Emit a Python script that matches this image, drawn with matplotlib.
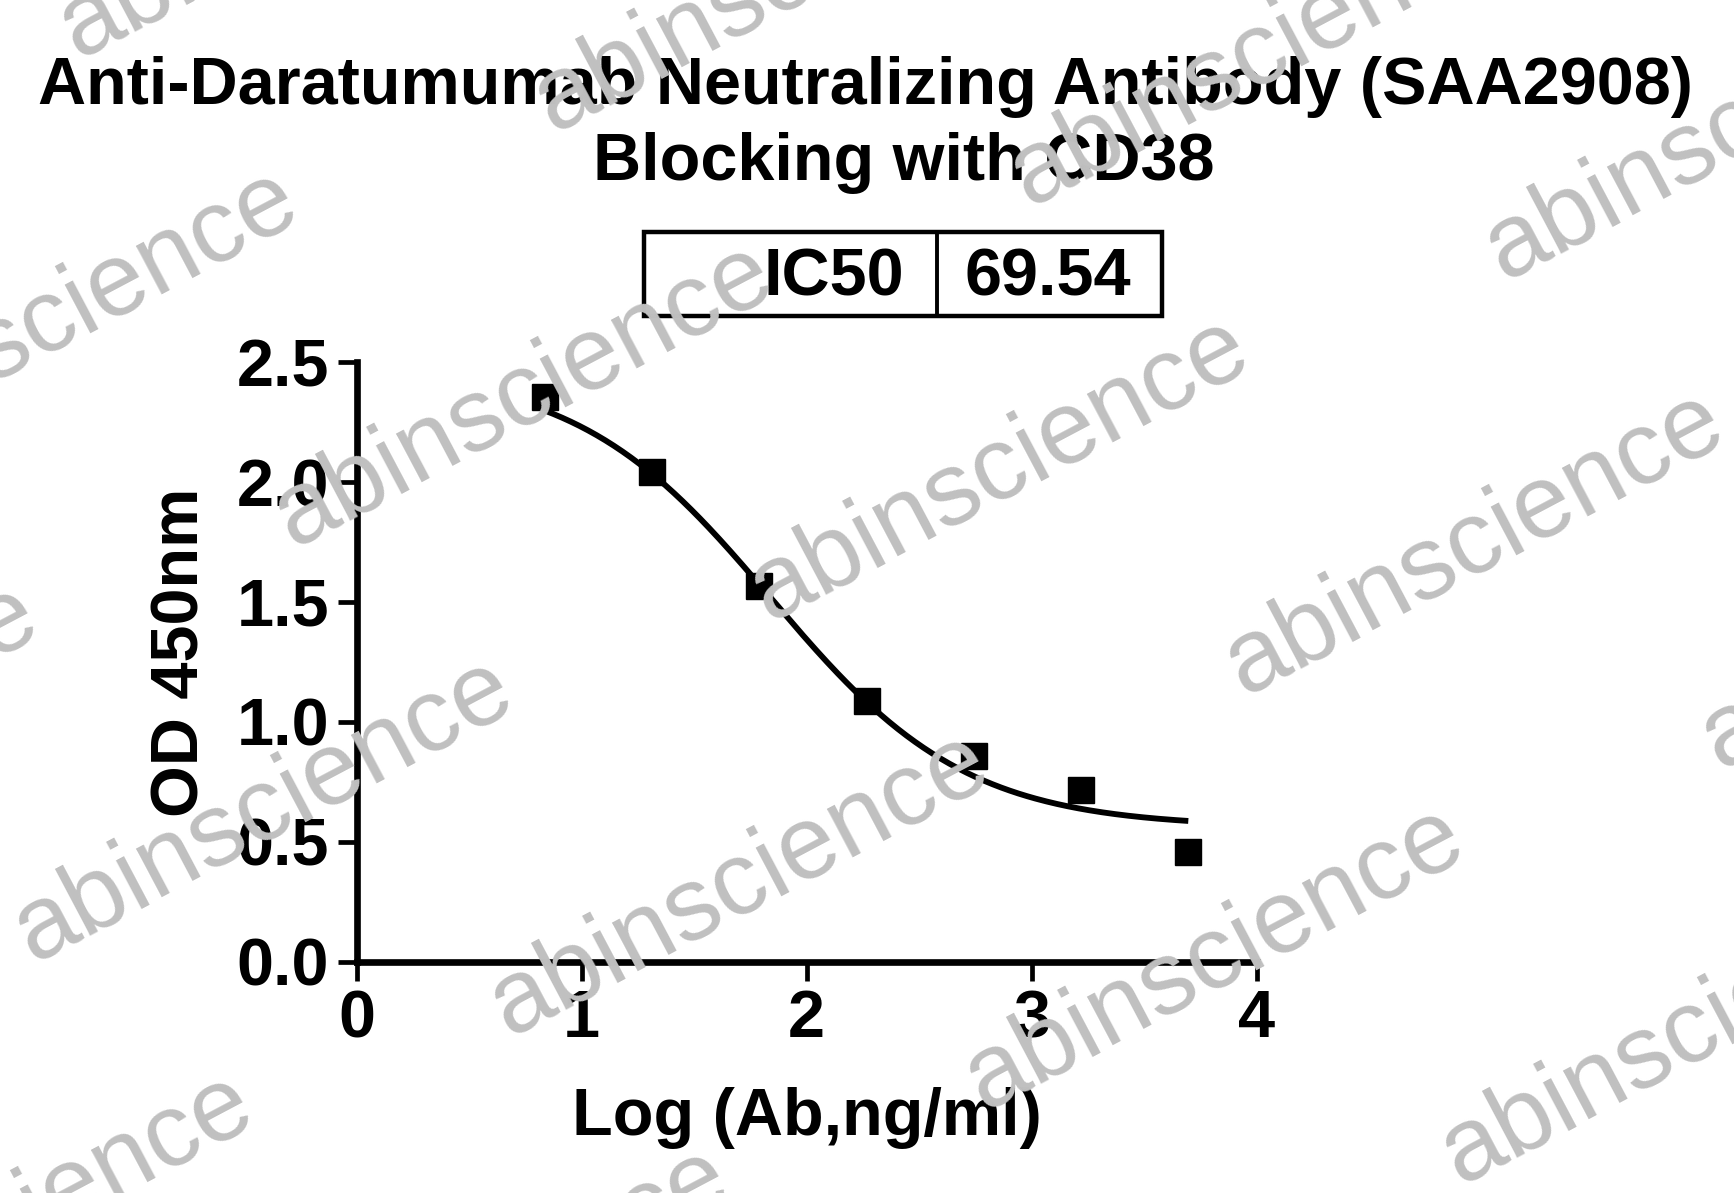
"""
Anti-Daratumumab 中和抗体 (SAA2908) 阻断 CD38 的剂量-反应曲线复刻。
"""

import numpy as np
import matplotlib
matplotlib.use("Agg")
import matplotlib.pyplot as plt
from matplotlib.patches import Rectangle
from matplotlib.lines import Line2D

# ========================= 数据 =========================

log_conc = [0.837, 1.314, 1.789, 2.267, 2.745, 3.219, 3.696]
od_450 = [2.356, 2.044, 1.565, 1.087, 0.856, 0.717, 0.456]

# 4PL 拟合参数 (IC50 来自图中表格)
IC50 = 69.54
FIT_TOP = 2.47
FIT_BOTTOM = 0.56
FIT_HILL = 1.0

x_ticks = [0, 1, 2, 3, 4]
y_ticks = [0.0, 0.5, 1.0, 1.5, 2.0, 2.5]

TITLE_LINES = ["Anti-Daratumumab Neutralizing Antibody (SAA2908)", "Blocking with CD38"]
X_LABEL = "Log (Ab,ng/ml)"
Y_LABEL = "OD 450nm"
WATERMARK = "abinscience"

# ======================== 画布 =========================

W, H = 1734, 1193
FS = 48

plt.rcParams["font.family"] = ["Liberation Sans", "DejaVu Sans"]
plt.rcParams["font.weight"] = "bold"

fig = plt.figure(figsize=(W / 100, H / 100), dpi=100)
fig.patch.set_facecolor("white")


def px(x, y):
    """像素坐标 -> figure 坐标"""
    return x / W, 1 - y / H


# 坐标轴区域 (像素): x 356.7 ~ 1256.7, y 362.3 ~ 961.5
ax_l, ax_r, ax_t, ax_b = 356.7, 1256.7, 362.3, 961.5
ax = fig.add_axes([ax_l / W, 1 - ax_b / H, (ax_r - ax_l) / W, (ax_b - ax_t) / H])

# 拟合曲线
lx = np.log10(IC50)
xs = np.linspace(log_conc[0], log_conc[-1], 300)
ys = FIT_BOTTOM + (FIT_TOP - FIT_BOTTOM) / (1 + 10 ** ((xs - lx) * FIT_HILL))
ax.plot(xs, ys, color="black", lw=4.2, solid_capstyle="butt", zorder=2)

# 数据点
ax.plot(log_conc, od_450, "s", color="black", markersize=18.5, clip_on=False, zorder=3)

ax.set_xlim(0, 4)
ax.set_ylim(0, 2.5)
ax.set_xticks(x_ticks)
ax.set_xticklabels([str(t) for t in x_ticks])
ax.set_yticks(y_ticks)
ax.set_yticklabels([f"{t:.1f}" for t in y_ticks])

for s in ["top", "right"]:
    ax.spines[s].set_visible(False)
for s in ["left", "bottom"]:
    ax.spines[s].set_linewidth(4.8)
ax.tick_params(axis="both", length=14, width=3.4, direction="out",
               labelsize=FS, pad=6)
for lab in ax.get_xticklabels() + ax.get_yticklabels():
    lab.set_fontweight("bold")

ax.set_xlabel(X_LABEL, fontsize=FS, fontweight="bold", va="baseline")
ax.xaxis.set_label_coords(0.5002, (ax_b - 1135) / (ax_b - ax_t))
ax.set_ylabel(Y_LABEL, fontsize=FS, fontweight="bold", va="center", ha="center")
ax.yaxis.set_label_coords((181.5 - ax_l) / (ax_r - ax_l), (ax_b - 652) / (ax_b - ax_t))

# ======================== 标题 =========================

fig.text(*px(866, 104), TITLE_LINES[0], ha="center", va="baseline",
         fontsize=FS, fontweight="bold")
fig.text(*px(904, 180), TITLE_LINES[1], ha="center", va="baseline",
         fontsize=FS, fontweight="bold")

# ======================== IC50 表格 =========================

bx0, by0 = px(643.5, 316)
bx1, by1 = px(1161.5, 232)
fig.patches.append(Rectangle((bx0, by0), bx1 - bx0, by1 - by0, transform=fig.transFigure,
                             fill=False, edgecolor="black", lw=3.2))
dx, _ = px(936.5, 0)
fig.lines.append(Line2D([dx, dx], [by0, by1], transform=fig.transFigure,
                        color="black", lw=2.8))
fig.text(*px(903.7, 295), "IC50", ha="right", va="baseline", fontsize=FS, fontweight="bold")
fig.text(*px(964.6, 295), f"{IC50:.2f}", ha="left", va="baseline", fontsize=FS, fontweight="bold")

# ======================== 水印 =========================

base = np.array([293.0, 547.5])
step_u = np.array([475.6, 74.1])
step_v = np.array([-260.0, 414.8])
for i in range(-2, 5):
    for j in range(-2, 4):
        x, y = base + i * step_u + j * step_v
        if -700 < x < W + 50 and -50 < y < H + 500:
            fig.text(*px(x, y), WATERMARK, rotation=27.9, rotation_mode="anchor",
                     ha="left", va="baseline", fontsize=75, fontweight="normal",
                     color="#c0c0c0", zorder=10)

fig.savefig("out.png", dpi=100)
